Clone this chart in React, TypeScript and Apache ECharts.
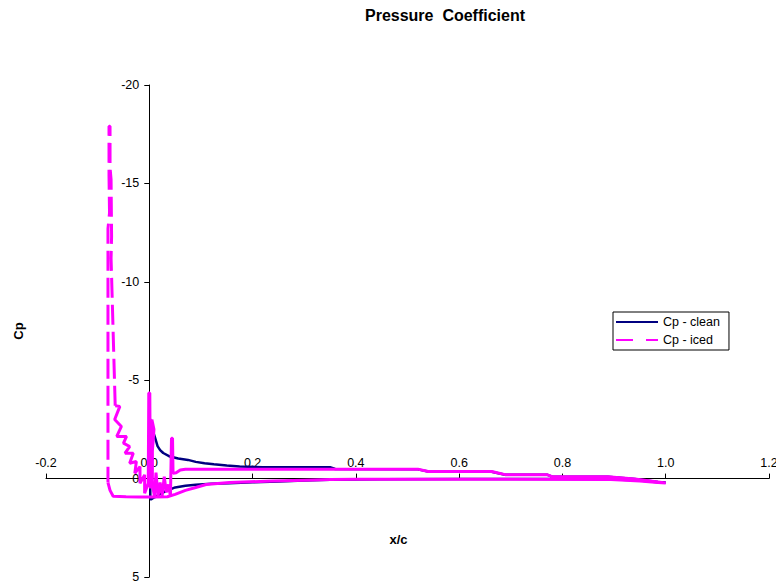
import React, { useEffect, useRef } from "react";
import * as echarts from "echarts";

const chartTitle = "Pressure  Coefficient";
const xAxisName = "x/c";
const yAxisName = "Cp";
const seriesNames = ["Cp - clean", "Cp - iced"];

// Clean section: trailing edge -> lower surface -> leading edge -> upper surface -> trailing edge
const cleanX = [
  1.0, 0.985, 0.95, 0.894, 0.8, 0.6, 0.45, 0.35, 0.3, 0.25, 0.2, 0.155, 0.12, 0.09, 0.07, 0.05, 0.03, 0.02, 0.01, 0.004, 0.002,
  0.001, 0.003, 0.006, 0.011, 0.016, 0.021, 0.027, 0.04, 0.056, 0.075, 0.09, 0.107, 0.125, 0.15, 0.175, 0.22, 0.35, 0.36, 0.52,
  0.54, 0.663, 0.689, 0.77, 0.78, 0.888, 0.94, 0.985, 1.0,
];
const cleanCp = [
  0.2, 0.18, 0.1, 0.03, 0.02, 0.02, 0.03, 0.06, 0.1, 0.15, 0.19, 0.23, 0.26, 0.31, 0.36, 0.45, 0.66, 0.8, 0.95, 1.05, 1.05,
  -3.05, -2.9, -2.5, -2.1, -1.65, -1.45, -1.3, -1.12, -1.02, -0.95, -0.85, -0.78, -0.73, -0.67, -0.62, -0.58, -0.58, -0.49, -0.47,
  -0.36, -0.35, -0.2, -0.2, -0.1, -0.09, 0.02, 0.17, 0.2,
];

// Iced section, front face of the ice horn (long panels, dashed)
const icedHornX = [-0.066, -0.074, -0.073, -0.074, -0.076, -0.076, -0.078, -0.078, -0.077, -0.08, -0.08];
const icedHornCp = [-3.7, -11.2, -12.3, -15.2, -15.8, -17.9, -17.9, -15.4, -13.5, -12.7, 0.2];

// Iced section, remaining surface: horn upper side -> leading edge -> upper surface -> lower surface -> horn base
const icedSurfX = [
  -0.066, -0.057, -0.067, -0.054, -0.063, -0.044, -0.05, -0.038, -0.047, -0.031, -0.038, -0.025, -0.028, -0.018, -0.018, -0.009,
  -0.009, -0.002,
  -0.001, 0.001, 0.002, 0.005, 0.009, 0.006, 0.006,
  0.01, 0.013, 0.017, 0.021, 0.025, 0.029, 0.033, 0.037, 0.041,
  0.043, 0.045, 0.046, 0.052, 0.06, 0.07,
  0.52, 0.54, 0.663, 0.689, 0.77, 0.78, 0.888, 0.94, 0.985, 1.0,
  0.985, 0.95, 0.894, 0.6, 0.4, 0.35, 0.3, 0.24, 0.155, 0.11, 0.09, 0.07, 0.05, 0.035, 0.01, -0.02, -0.045, -0.07, -0.076, -0.08,
];
const icedSurfCp = [
  -3.7, -3.67, -3.0, -2.65, -2.14, -2.14, -1.8, -1.63, -1.29, -1.29, -0.78, -0.87, -0.27, -0.61, 0.24, -0.19,
  0.75, 0.24,
  -4.35, -4.35, 0.5, -3.0, -2.5, -1.4, 0.3,
  0.9, -0.3, 0.9, 0.2, 0.85, -0.1, 0.7, 0.3, 0.9,
  -2.05, -2.05, -0.27, -0.3, -0.44, -0.48,
  -0.48, -0.36, -0.36, -0.2, -0.2, -0.1, -0.1, 0.02, 0.17, 0.22,
  0.2, 0.12, 0.04, 0.03, 0.03, 0.05, 0.08, 0.12, 0.2, 0.3, 0.45, 0.6, 0.8, 0.92, 0.93, 0.93, 0.92, 0.9, 0.6, 0.2,
];

const X_MIN = -0.2;
const X_MAX = 1.2;
const X_STEP = 0.2;
const Y_MIN = -20;
const Y_MAX = 5;
const Y_STEP = 5;

// plot rectangle
const GRID_LEFT = 46;
const GRID_TOP = 85;
const GRID_W = 723;
const GRID_H = 492;

const FONT = "'Liberation Sans', Arial, Helvetica, sans-serif";
const CLEAN_COLOR = "#000080";
const ICED_COLOR = "#FF00FF";

const pairs = (xs: number[], ys: number[]) => xs.map((x, i) => [x, ys[i]]);

// the axes cross at x = 0 and Cp = 0, so each axis is shifted from the plot edge to the other's zero
const yAxisShift = -((0 - X_MIN) / (X_MAX - X_MIN)) * GRID_W;
const xAxisShift = -((Y_MAX - 0) / (Y_MAX - Y_MIN)) * GRID_H;

export default function App() {
  const ref = useRef<HTMLDivElement>(null);

  useEffect(() => {
    document.body.style.margin = "0";
    if (!ref.current) return;
    const chart = echarts.init(ref.current, undefined, { renderer: "svg" });
    const axisLine = { onZero: false, lineStyle: { color: "#000", width: 1 } };
    const tickLabel = { color: "#000", fontSize: 12.5, fontFamily: FONT };
    const nameStyle = { color: "#000", fontSize: 13, fontWeight: "bold" as const, fontFamily: FONT };

    chart.setOption({
      animation: false,
      backgroundColor: "#ffffff",
      textStyle: { fontFamily: FONT },
      title: {
        text: chartTitle,
        left: 365,
        top: 7,
        padding: 0,
        textStyle: { fontSize: 16, fontWeight: "bold", color: "#000", fontFamily: FONT },
      },
      legend: {
        orient: "vertical",
        left: 613,
        top: 312,
        padding: [3, 9, 3, 2],
        itemWidth: 42,
        itemHeight: 14,
        itemGap: 4,
        borderColor: "#000",
        borderWidth: 1,
        borderRadius: 0,
        itemStyle: { opacity: 0 },
        textStyle: { color: "#000", fontSize: 12.5, fontFamily: FONT, lineHeight: 14 },
        data: [
          { name: seriesNames[0] },
          { name: seriesNames[1], lineStyle: { type: [17, 13] } },
        ],
      },
      grid: {
        left: GRID_LEFT,
        top: GRID_TOP,
        width: GRID_W,
        height: GRID_H,
        containLabel: false,
        outerBoundsMode: "none",
      },
      xAxis: {
        type: "value",
        position: "bottom",
        offset: xAxisShift,
        min: X_MIN,
        max: X_MAX,
        interval: X_STEP,
        name: xAxisName,
        nameLocation: "middle",
        nameGap: 54,
        nameTextStyle: { ...nameStyle, padding: [0, 18, 0, 0] },
        axisLine,
        axisTick: { show: true, inside: true, length: 5, lineStyle: { color: "#000" } },
        axisLabel: { ...tickLabel, inside: true, margin: 9, formatter: (v: number) => v.toFixed(1) },
        splitLine: { show: false },
      },
      yAxis: {
        type: "value",
        position: "left",
        offset: yAxisShift,
        inverse: true,
        min: Y_MIN,
        max: Y_MAX,
        interval: Y_STEP,
        name: yAxisName,
        nameLocation: "middle",
        nameGap: 124,
        nameRotate: 90,
        nameTextStyle: nameStyle,
        axisLine,
        axisTick: { show: true, length: 5, lineStyle: { color: "#000" } },
        axisLabel: { ...tickLabel, margin: 10, formatter: (v: number) => String(v) },
        splitLine: { show: false },
      },
      series: [
        {
          name: seriesNames[0],
          type: "line",
          data: pairs(cleanX, cleanCp),
          symbol: "none",
          z: 2,
          itemStyle: { color: CLEAN_COLOR },
          lineStyle: { color: CLEAN_COLOR, width: 2.5 },
        },
        {
          name: seriesNames[1],
          type: "line",
          data: pairs(icedHornX, icedHornCp),
          symbol: "none",
          z: 3,
          itemStyle: { color: ICED_COLOR },
          lineStyle: { color: ICED_COLOR, width: 3, type: [20, 7] },
        },
        {
          name: seriesNames[1],
          type: "line",
          data: pairs(icedSurfX, icedSurfCp),
          symbol: "none",
          z: 3,
          itemStyle: { color: ICED_COLOR },
          lineStyle: { color: ICED_COLOR, width: 3 },
        },
      ],
    });
    return () => chart.dispose();
  }, []);

  return (
    <div
      ref={ref}
      style={{ position: "fixed", left: 0, top: 0, width: 776, height: 587, background: "#fff" }}
    />
  );
}
